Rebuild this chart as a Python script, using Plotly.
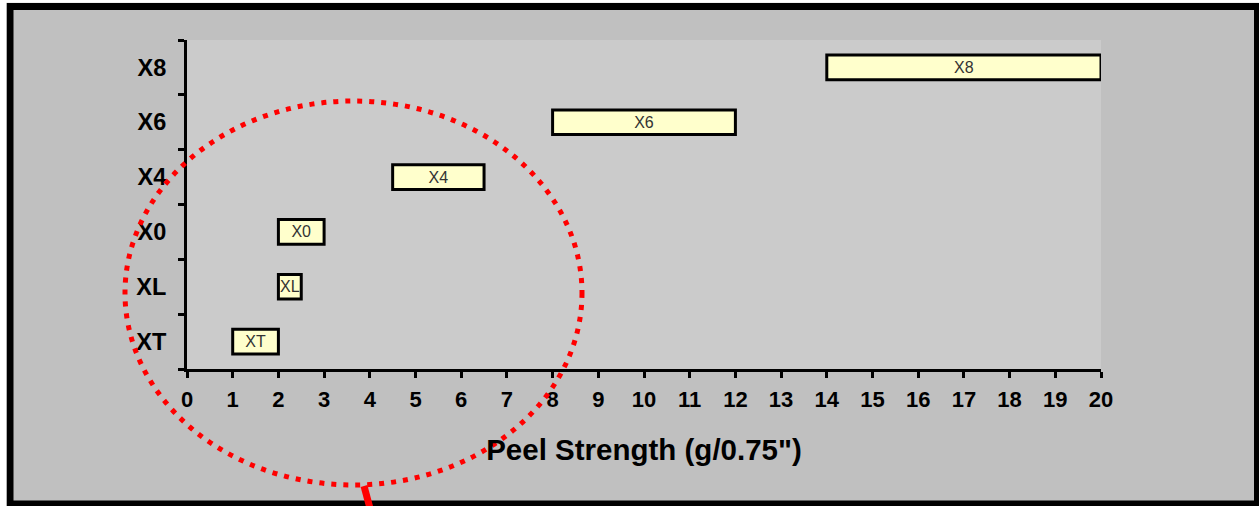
import plotly.graph_objects as go

# Data
categories = ["XT", "XL", "X0", "X4", "X6", "X8"]
range_start = [1.0, 2.0, 2.0, 4.5, 8.0, 14.0]
range_end = [2.0, 2.5, 3.0, 6.5, 12.0, 20.0]
x_ticks = list(range(0, 21))

W, H = 1259, 506
L, R, T, B = 187, 1101, 40, 369  # plot area in px
PW, PH = R - L, B - T


def px(x):
    return (x - L) / PW


def py(y):
    return (B - y) / PH


FONT = "Liberation Sans, Arial, sans-serif"

fig = go.Figure()
fig.add_trace(go.Bar(
    orientation="h",
    y=categories,
    base=range_start,
    x=[e - s for s, e in zip(range_start, range_end)],
    width=0.45,
    marker=dict(color="#ffffcc", line=dict(color="black", width=3)),
    text=categories,
    textposition="inside",
    insidetextanchor="middle",
    constraintext="none",
    textangle=0,
    textfont=dict(family=FONT, size=16, color="#333333"),
    hoverinfo="skip",
    showlegend=False,
))

shapes = [
    # outer frame
    dict(type="rect", xref="paper", yref="paper",
         x0=px(10), x1=px(1257.5), y0=py(504), y1=py(6.5),
         line=dict(color="black", width=7), fillcolor="rgba(0,0,0,0)", layer="above"),
    # white strips outside frame
    dict(type="rect", xref="paper", yref="paper",
         x0=px(-2), x1=px(6.5), y0=py(520), y1=py(-5),
         line=dict(width=0), fillcolor="white", layer="above"),
    dict(type="rect", xref="paper", yref="paper",
         x0=px(-2), x1=px(1265), y0=py(2.8), y1=py(-5),
         line=dict(width=0), fillcolor="white", layer="above"),
    # red dotted ellipse
    dict(type="circle", xref="paper", yref="paper",
         x0=px(125), x1=px(582), y0=py(485), y1=py(101),
         line=dict(color="#ff0000", width=5, dash="5px,7px"), layer="above"),
    # red connector
    dict(type="line", xref="paper", yref="paper",
         x0=px(364), y0=py(486), x1=px(371), y1=py(512),
         line=dict(color="#ff0000", width=7), layer="above"),
]

fig.update_layout(
    width=W, height=H,
    margin=dict(l=L, r=W - R, t=T, b=H - B, pad=0),
    paper_bgcolor="#c0c0c0",
    plot_bgcolor="#cbcbcb",
    shapes=shapes,
    font=dict(family=FONT, color="black"),
    xaxis=dict(
        range=[0, 20],
        tickmode="array", tickvals=x_ticks, ticktext=[str(v) for v in x_ticks],
        ticks="outside", ticklen=6, tickwidth=3, tickcolor="black",
        showline=True, linewidth=3, linecolor="black",
        showgrid=False, zeroline=False,
        ticklabelstandoff=3,
        tickfont=dict(size=22, color="black", family=FONT, weight="bold"),
        title=dict(text="Peel Strength (g/0.75\")", standoff=28,
                   font=dict(size=29.5, color="black", family=FONT, weight="bold")),
    ),
    yaxis=dict(
        type="category",
        categoryorder="array", categoryarray=categories,
        range=[-0.5, 5.5],
        tickson="boundaries",
        ticks="outside", ticklen=6, tickwidth=3, tickcolor="black",
        showline=True, linewidth=3, linecolor="black",
        showgrid=False, zeroline=False,
        ticklabelstandoff=13,
        tickfont=dict(size=23.5, color="black", family=FONT, weight="bold"),
    ),
)

fig.write_html(
    "out.html",
    config={"displayModeBar": False},
    post_script="document.body.style.margin='0';document.body.style.overflow='hidden';",
)
